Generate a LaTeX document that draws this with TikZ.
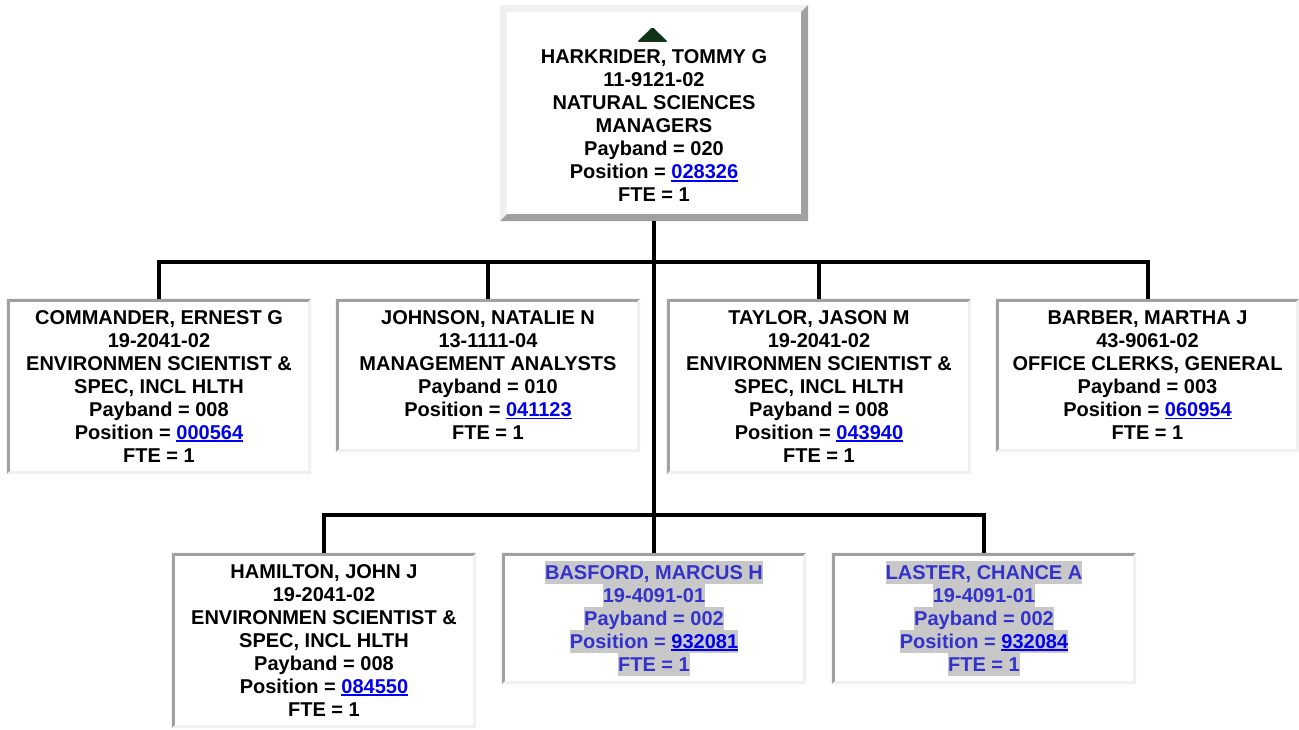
\documentclass[tikz,border=0pt]{standalone}
\usepackage{fontspec}
\setmainfont{Liberation Sans}
\usetikzlibrary{calc}
\definecolor{darkb}{RGB}{160,160,160}
\definecolor{lightb}{RGB}{240,240,240}
\definecolor{linkblue}{RGB}{0,0,238}
\definecolor{hlgrey}{RGB}{200,200,200}
\definecolor{hltext}{RGB}{51,51,204}
\definecolor{tricol}{RGB}{16,52,24}
\newcommand\sline{\rule[-5pt]{0pt}{23pt}}
\newcommand\lnk[1]{{\color{linkblue}\setbox0\hbox{#1}\rlap{\rule[-2.8pt]{\wd0}{1.8pt}}\box0}}
\newcommand\hlline[1]{{\setlength\fboxsep{0pt}\colorbox{hlgrey}{\color{hltext}\sline#1}}}
\newcommand\bevel[4]{%
  \fill[#3] (#1.north west) -- (#1.north east) -- ([shift={(-#2,-#2)}]#1.north east) -- ([shift={(#2,-#2)}]#1.north west) -- cycle;
  \fill[#3] (#1.north west) -- (#1.south west) -- ([shift={(#2,#2)}]#1.south west) -- ([shift={(#2,-#2)}]#1.north west) -- cycle;
  \fill[#4] (#1.north east) -- (#1.south east) -- ([shift={(-#2,#2)}]#1.south east) -- ([shift={(-#2,-#2)}]#1.north east) -- cycle;
  \fill[#4] (#1.south west) -- (#1.south east) -- ([shift={(-#2,#2)}]#1.south east) -- ([shift={(#2,#2)}]#1.south west) -- cycle;
}
\tikzset{
  txt/.style={inner sep=0pt, align=center, font=\fontsize{20pt}{23pt}\selectfont\bfseries},
  card/.style={txt, rectangle, fill=white, minimum width=304pt},
  conn/.style={line width=4pt, draw=black},
}
\begin{document}
\begin{tikzpicture}[x=1pt,y=-1pt]
\useasboundingbox (0,0) rectangle (1299,730);
\fill[white] (0,0) rectangle (1299,730);
% top box
\node[card, minimum width=308pt, minimum height=216pt] (top) at (654,113) {};
\node[txt] (toptext) at (654,126.5) {\sline HARKRIDER, TOMMY G\\\sline 11-9121-02\\\sline NATURAL SCIENCES\\\sline MANAGERS\\\sline Payband = 020\\\sline Position = \lnk{028326}\\\sline FTE = 1};
\fill[tricol, rounded corners=1.5pt] (652.5,27) -- (668,42) -- (637,42) -- cycle;
% row 1
\node[card, minimum height=175pt] (b1) at (159,386.5) {\sline COMMANDER, ERNEST G\\\sline 19-2041-02\\\sline ENVIRONMEN SCIENTIST \&\\\sline SPEC, INCL HLTH\\\sline Payband = 008\\\sline Position = \lnk{000564}\\\sline FTE = 1};
\node[card, minimum height=153pt] (b2) at (488,375.5) {\sline JOHNSON, NATALIE N\\\sline 13-1111-04\\\sline MANAGEMENT ANALYSTS\\\sline Payband = 010\\\sline Position = \lnk{041123}\\\sline FTE = 1};
\node[card, minimum height=175pt] (b3) at (819,386.5) {\sline TAYLOR, JASON M\\\sline 19-2041-02\\\sline ENVIRONMEN SCIENTIST \&\\\sline SPEC, INCL HLTH\\\sline Payband = 008\\\sline Position = \lnk{043940}\\\sline FTE = 1};
\node[card, minimum width=303pt, minimum height=153pt] (b4) at (1147.5,375.5) {\sline BARBER, MARTHA J\\\sline 43-9061-02\\\sline OFFICE CLERKS, GENERAL\\\sline Payband = 003\\\sline Position = \lnk{060954}\\\sline FTE = 1};
% row 2
\node[card, minimum height=175pt] (ham) at (324,640.5) {\sline HAMILTON, JOHN J\\\sline 19-2041-02\\\sline ENVIRONMEN SCIENTIST \&\\\sline SPEC, INCL HLTH\\\sline Payband = 008\\\sline Position = \lnk{084550}\\\sline FTE = 1};
\node[card, minimum height=131pt] (bas) at (654,618.5) {\hlline{BASFORD, MARCUS H}\\\hlline{19-4091-01}\\\hlline{Payband = 002}\\\hlline{Position = \lnk{932081}}\\\hlline{FTE = 1}};
\node[card, minimum height=131pt] (las) at (984,618.5) {\hlline{LASTER, CHANCE A}\\\hlline{19-4091-01}\\\hlline{Payband = 002}\\\hlline{Position = \lnk{932084}}\\\hlline{FTE = 1}};
% borders
\bevel{top}{7pt}{lightb}{darkb}
\bevel{b1}{3pt}{darkb}{lightb}
\bevel{b2}{3pt}{darkb}{lightb}
\bevel{b3}{3pt}{darkb}{lightb}
\bevel{b4}{3pt}{darkb}{lightb}
\bevel{ham}{3pt}{darkb}{lightb}
\bevel{bas}{3pt}{darkb}{lightb}
\bevel{las}{3pt}{darkb}{lightb}
% connectors
\coordinate (hubA) at (654,262);
\coordinate (hubB) at (654,515);
\draw[conn] (top.south) -- (hubB);
\draw[conn] (b1.north) |- (hubA);
\draw[conn] (b2.north) |- (hubA);
\draw[conn] (b3.north) |- (hubA);
\draw[conn] (b4.north) |- (hubA);
\draw[conn] (ham.north) |- (hubB);
\draw[conn] (bas.north) -- (hubB);
\draw[conn] (las.north) |- (hubB);
\end{tikzpicture}
\end{document}
